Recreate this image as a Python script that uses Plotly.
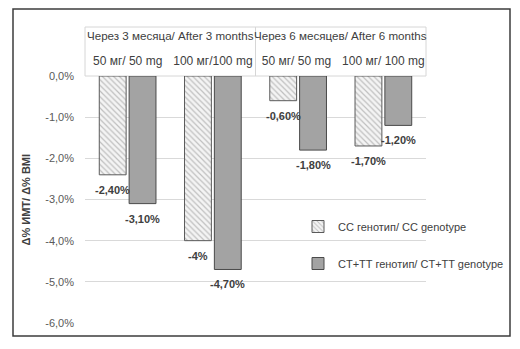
import plotly.graph_objects as go

# ---- data ----
doses = ["50 мг/ 50 mg", "100 мг/100 mg", "50 мг/ 50 mg ", "100 мг/ 100 mg"]
periods = ["Через 3 месяца/ After 3 months", "Через 6 месяцев/ After 6 months"]
series_names = ["CC генотип/ CC genotype", "CT+TT генотип/ CT+TT genotype"]
cc_values = [-2.4, -4.0, -0.6, -1.7]
cttt_values = [-3.1, -4.7, -1.8, -1.2]
cc_labels = ["-2,40%", "-4%", "-0,60%", "-1,70%"]
cttt_labels = ["-3,10%", "-4,70%", "-1,80%", "-1,20%"]
y_tickvals = [0, -1, -2, -3, -4, -5, -6]
y_ticktext = ["0,0%", "-1,0%", "-2,0%", "-3,0%", "-4,0%", "-5,0%", "-6,0%"]

W, H = 520, 349
ML, MR, MT, MB = 85, 94, 76, 26
PW = W - ML - MR
PH = H - MT - MB
FONT = "Liberation Sans"
TXT = "#404040"

fig = go.Figure()
fig.add_trace(go.Bar(
    x=doses, y=cc_values, name=series_names[0], legendgroup="a",
    marker=dict(color="#f4f4f4", line=dict(color="#5a5a5a", width=1),
                pattern=dict(shape="\\", fgcolor="#8a8a8a", bgcolor="#f4f4f4", size=4, solidity=0.3)),
))
fig.add_trace(go.Bar(
    x=doses, y=cttt_values, name=series_names[1], legendgroup="b",
    marker=dict(color="#a3a3a3", line=dict(color="#4a4a4a", width=1)),
))

slot = PW / len(doses) * (1 - 0.3) / 2
anns = []
for vals, labs, sgn in [(cc_values, cc_labels, -1), (cttt_values, cttt_labels, 1)]:
    for d, v, t in zip(doses, vals, labs):
        anns.append(dict(x=d, y=v, xref="x", yref="y", text=f"<b>{t}</b>", showarrow=False,
                         xanchor="center", yanchor="top", yshift=-7, xshift=sgn * slot / 2,
                         font=dict(family=FONT, size=11, color=TXT)))
# period header labels
for i, p in enumerate(periods):
    anns.append(dict(x=0.25 + 0.5 * i, y=1, xref="paper", yref="paper", text=p, showarrow=False,
                     xanchor="center", yanchor="middle", yshift=41,
                     font=dict(family=FONT, size=11.6, color=TXT)))
# y axis title
anns.append(dict(x=(25 - ML) / PW, y=0.5, xref="paper", yref="paper", text="<b>Δ% ИМТ/ Δ% BMI</b>",
                 xanchor="center", yanchor="middle",
                 textangle=-90, showarrow=False, font=dict(family=FONT, size=11, color=TXT)))

shapes = [
    # header box
    dict(type="rect", xref="paper", yref="paper", x0=0, x1=1, y0=1, y1=1 + 49 / PH,
         line=dict(color="#d6d6d6", width=1), fillcolor="white", layer="below"),
    dict(type="line", xref="paper", yref="paper", x0=0.5, x1=0.5, y0=1, y1=1 + 49 / PH,
         line=dict(color="#d6d6d6", width=1)),
    # outer frame
    dict(type="rect", xref="paper", yref="paper",
         x0=(13 - ML) / PW, x1=(510 - ML) / PW,
         y0=(H - MB - 336) / PH, y1=(H - MB - 9) / PH,
         line=dict(color="#3c3c3c", width=1.5)),
]

fig.update_layout(
    width=W, height=H, margin=dict(l=ML, r=MR, t=MT, b=MB, autoexpand=False),
    paper_bgcolor="white", plot_bgcolor="white",
    barmode="group", bargap=0.3, bargroupgap=0.1,
    font=dict(family=FONT, size=11, color=TXT),
    xaxis=dict(side="top", categoryorder="array", categoryarray=doses, showgrid=False,
               showline=False, ticks="", tickfont=dict(family=FONT, size=12, color=TXT),
               ticklabelstandoff=8, automargin=False),
    yaxis=dict(range=[-6, 0], tickvals=y_tickvals, ticktext=y_ticktext, showgrid=True,
               gridcolor="#d9d9d9", gridwidth=1, zeroline=False, showline=False,
               tickfont=dict(family=FONT, size=11, color="#595959"), ticklabelstandoff=10,
               automargin=False),
    legend=dict(x=(298 - ML) / PW, y=(H - MB - 212) / PH, xanchor="left", yanchor="top",
                bgcolor="rgba(0,0,0,0)", font=dict(family=FONT, size=11, color=TXT),
                tracegroupgap=18, traceorder="grouped", itemwidth=30),
    annotations=anns, shapes=shapes,
)

fig.write_html("out.html")
